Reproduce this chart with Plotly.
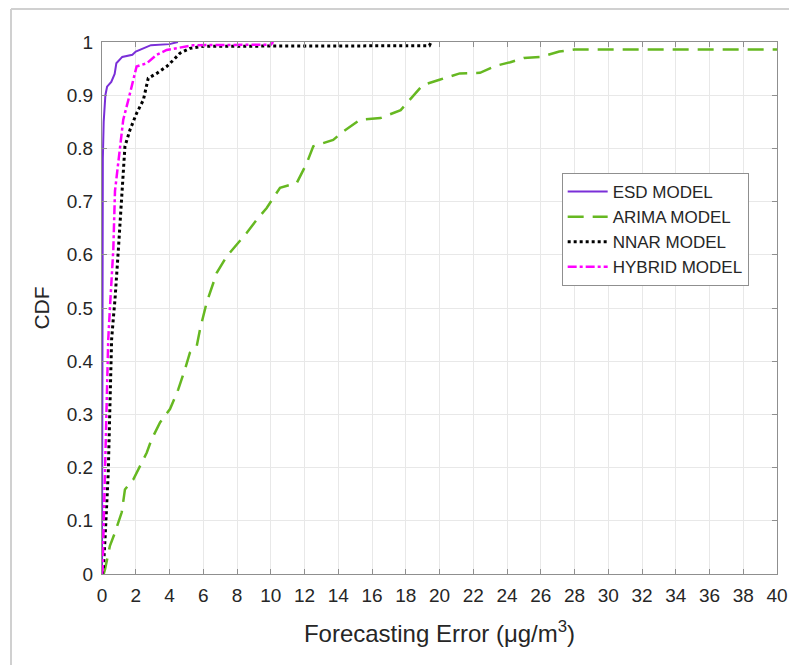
import plotly.graph_objects as go

esd_x = [0, 0.02, 0.05, 0.1, 0.2, 0.3, 0.55, 0.75, 0.85, 1.2, 1.8, 2.0, 2.4, 2.9, 4.0, 4.5]
esd_y = [0, 0.5, 0.78, 0.85, 0.9, 0.916, 0.925, 0.94, 0.96, 0.972, 0.976, 0.982, 0.988, 0.994, 0.996, 1.0]

arima_x = [0.1, 0.18, 0.47, 0.77, 1.17, 1.36, 1.86, 2.25, 2.65, 2.94, 3.44, 4.03, 4.52, 4.92, 5.21, 5.61,
           5.81, 6.2, 6.8, 7.39, 7.98, 8.57, 9.17, 9.76, 10.55, 11.54, 12.13, 12.52, 13.7, 14.3, 15.3,
           16.5, 17.7, 18.4, 19.0, 20.0, 21.2, 22.4, 23.3, 24.2, 25.0, 26.0, 27.1, 28.0, 40.0]
arima_y = [0.0, 0.009, 0.053, 0.078, 0.116, 0.159, 0.178, 0.203, 0.228, 0.253, 0.285, 0.31, 0.347, 0.385,
           0.416, 0.428, 0.46, 0.51, 0.566, 0.597, 0.619, 0.641, 0.666, 0.688, 0.726, 0.735, 0.772, 0.804,
           0.816, 0.832, 0.854, 0.857, 0.872, 0.897, 0.919, 0.929, 0.941, 0.942, 0.955, 0.962, 0.97, 0.972,
           0.982, 0.986, 0.986]

nnar_x = [0, 0.08, 0.18, 0.37, 0.47, 0.57, 0.67, 0.77, 0.97, 1.17, 1.36, 1.66, 2.05, 2.45, 2.74, 3.24,
          3.83, 4.23, 4.62, 5.21, 6.0, 19.4, 19.5]
nnar_y = [0, 0.01, 0.066, 0.19, 0.316, 0.441, 0.48, 0.516, 0.61, 0.704, 0.804, 0.835, 0.866, 0.891, 0.932,
          0.941, 0.954, 0.966, 0.979, 0.988, 0.992, 0.993, 1.0]

hybrid_x = [0, 0.04, 0.08, 0.18, 0.28, 0.37, 0.47, 0.57, 0.67, 0.77, 1.07, 1.26, 1.56, 2.05, 2.65, 3.24,
            3.83, 4.43, 5.41, 10.0, 10.15]
hybrid_y = [0, 0.01, 0.066, 0.19, 0.328, 0.441, 0.5, 0.55, 0.61, 0.72, 0.804, 0.854, 0.891, 0.954, 0.96,
            0.976, 0.985, 0.988, 0.994, 0.995, 1.0]

x_ticks = list(range(0, 41, 2))
y_ticks = [0, 0.1, 0.2, 0.3, 0.4, 0.5, 0.6, 0.7, 0.8, 0.9, 1]
y_tick_labels = ["0", "0.1", "0.2", "0.3", "0.4", "0.5", "0.6", "0.7", "0.8", "0.9", "1"]

FONT = "Liberation Sans, Arial, sans-serif"
TXT = "#262626"

fig = go.Figure()
fig.add_trace(go.Scatter(x=esd_x, y=esd_y, mode="lines", name="ESD MODEL",
                         line=dict(color="#7a2fd8", width=2, dash="solid")))
fig.add_trace(go.Scatter(x=arima_x, y=arima_y, mode="lines", name="ARIMA MODEL",
                         line=dict(color="#66b821", width=2.5, dash="16px,9px")))
fig.add_trace(go.Scatter(x=nnar_x, y=nnar_y, mode="lines", name="NNAR MODEL",
                         line=dict(color="#000000", width=3, dash="dot")))
fig.add_trace(go.Scatter(x=hybrid_x, y=hybrid_y, mode="lines", name="HYBRID MODEL",
                         line=dict(color="#ff00ff", width=2.5, dash="dashdot")))

axis_common = dict(showgrid=True, gridcolor="#e8e8e8", gridwidth=1, showline=True, linecolor="#8f8f8f",
                   linewidth=1.3, mirror="ticks", ticks="inside", ticklen=5, tickcolor="#8f8f8f",
                   zeroline=False, ticklabelstandoff=4, tickfont=dict(family=FONT, size=19, color=TXT))

fig.update_layout(
    width=789, height=657,
    margin=dict(l=94, r=20, t=34, b=91, autoexpand=False),
    paper_bgcolor="white", plot_bgcolor="white",
    font=dict(family=FONT, color=TXT),
    showlegend=True,
    legend=dict(x=0.681, y=0.6476, xanchor="left", yanchor="middle", bgcolor="white",
                bordercolor="#8f8f8f", borderwidth=1, font=dict(family=FONT, size=17, color=TXT),
                tracegroupgap=0, itemwidth=40),
    xaxis=dict(range=[0, 40], tickvals=x_ticks, ticktext=[str(v) for v in x_ticks],
               title=dict(text="Forecasting Error (μg/m<sup>3</sup>)", font=dict(family=FONT, size=24, color=TXT),
                          standoff=20),
               **axis_common),
    yaxis=dict(range=[0, 1], tickvals=y_ticks, ticktext=y_tick_labels,
               title=dict(text="CDF", font=dict(family=FONT, size=21, color=TXT), standoff=11),
               **axis_common),
    shapes=[
        dict(type="line", xref="paper", yref="paper", x0=-0.1348, x1=-0.1348, y0=-0.25, y1=1.062,
             line=dict(color="#d0d0d0", width=2)),
        dict(type="line", xref="paper", yref="paper", x0=-0.1348, x1=1.06, y0=1.062, y1=1.062,
             line=dict(color="#d0d0d0", width=2)),
    ],
)

fig.write_html("out.html")
